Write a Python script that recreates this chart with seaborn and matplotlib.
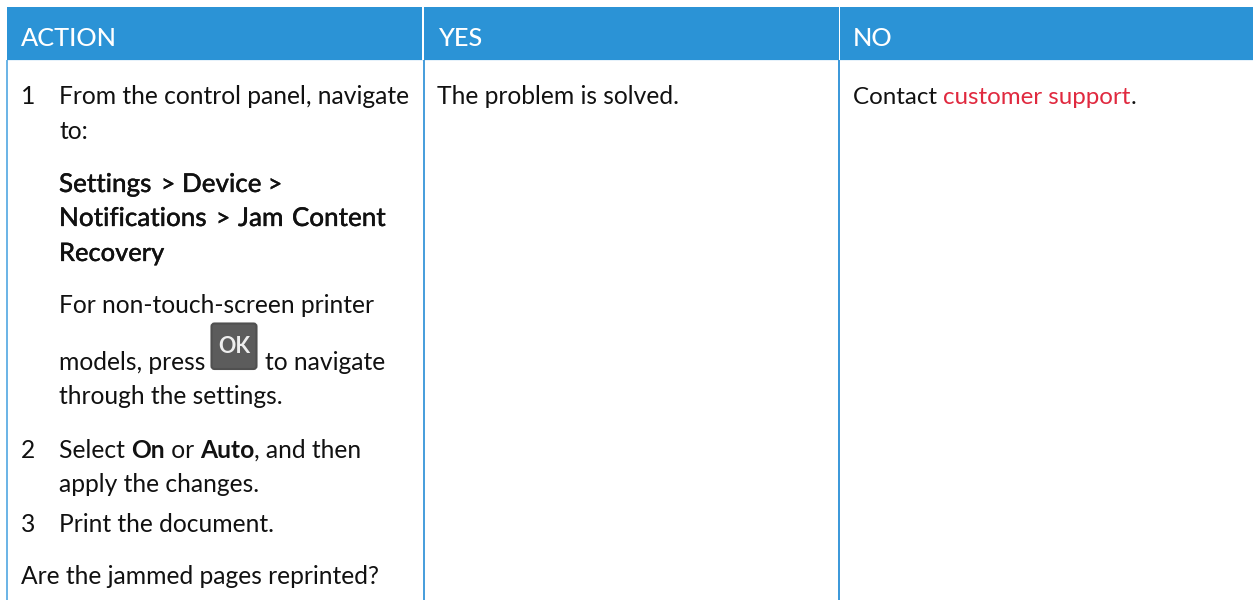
import matplotlib
matplotlib.use("Agg")
import matplotlib.pyplot as plt
from matplotlib.patches import Rectangle, FancyBboxPatch
import matplotlib.patheffects as pe
import seaborn as sns

sns.set_theme(style="white")
plt.rcParams['font.family'] = ['Lato', 'DejaVu Sans']

headers = ["ACTION", "YES", "NO"]
header_x = [21, 438, 853]
yes_text = "The problem is solved."
no_text = ["Contact ", "customer support", "."]
step_numbers = ["1", "2", "3"]
path_line1 = ["Settings", ">", "Device", ">"]
path_line1_x = [59, 161, 182, 268]
path_line2 = ["Notifications", ">", "Jam", "Content"]
path_line2_x = [59, 216, 238, 292]

W, H = 1253, 600
BLUE = "#2b93d6"
INK = "#111111"
RED = "#e0293f"
FS = 17.7
FS_HEAD = 18.2
FS_PATH = 18.7
STROKE = 0.2

fig = plt.figure(figsize=(W/100, H/100), dpi=100)
ax = fig.add_axes([0, 0, 1, 1])
ax.set_xlim(0, W)
ax.set_ylim(H, 0)
ax.axis("off")
sns.despine(ax=ax, left=True, bottom=True)

# header cells
for x0, x1 in [(7, 422), (423.5, 838.5), (840, 1253)]:
    ax.add_patch(Rectangle((x0, 7), x1-x0, 53, fc=BLUE, ec="none"))
ax.add_patch(Rectangle((7, 60), W-7, 1.2, fc="#e6f2fb", ec="none"))

# column rules
for x, c, lw in [(7, "#6db5e6", 2), (423.5, "#4a9fdc", 2), (839, "#3d99da", 1.6)]:
    ax.add_patch(Rectangle((x-lw/2, 60), lw, H-60, fc=c, ec="none"))

def put(x, y, s, color=INK, weight="normal", fs=FS, **kw):
    return ax.text(x, y, s, color=color, fontsize=fs, fontweight=weight, va="baseline", ha="left", **kw)

def put_path(x, y, s, fs=None):
    t = put(x, y, s, weight="medium", fs=fs or (FS_PATH if s != ">" else FS))
    t.set_path_effects([pe.withStroke(linewidth=STROKE, foreground=INK)])

def flow(x, y, parts, fs=FS):
    r = fig.canvas.get_renderer()
    for s, c, w in parts:
        t = put(x, y, s.replace(" ", "\u00a0"), color=c, weight=w, fs=fs)
        x = t.get_window_extent(r).x1

for x, s in zip(header_x, headers):
    put(x, 45.5, s, color="white", weight="medium", fs=FS_HEAD)

put(21, 104, step_numbers[0])
put(59, 104, "From the control panel, navigate")
put(59, 139, "to:")
for x, s in zip(path_line1_x, path_line1):
    put_path(x, 192, s)
for x, s in zip(path_line2_x, path_line2):
    put_path(x, 226, s)
put_path(59, 261, "Recovery", fs=18.3)
put(59, 313, "For non-touch-screen printer")
put(59, 370, "models, press")
ax.add_patch(FancyBboxPatch((211.5, 323.5), 45, 45.5, boxstyle="round,pad=0,rounding_size=3",
                            fc="#5c5c5c", ec="#505050", lw=1.5))
ax.text(234, 353, "OK", color="#eeeeee", fontweight="bold", fontsize=15.5, ha="center", va="baseline")
put(265, 370, "to navigate")
put(59, 404, "through the settings.")
put(21, 458, step_numbers[1])
flow(59, 458, [("Select ", INK, "normal"), ("On", INK, "bold"), (" or ", INK, "normal"),
               ("Auto", INK, "bold"), (", and then", INK, "normal")])
put(59, 492.5, "apply the changes.")
put(21, 532, step_numbers[2])
put(59, 532, "Print the document.")
put(21, 584, "Are the jammed pages reprinted?")

put(437, 104, yes_text)
flow(853, 104, [(no_text[0], INK, "normal"), (no_text[1], RED, "normal"), (no_text[2], INK, "normal")], fs=17.4)

fig.savefig("out.png", dpi=100, facecolor="white")
